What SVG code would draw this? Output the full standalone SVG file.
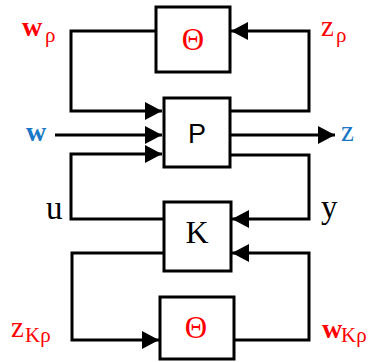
<svg xmlns="http://www.w3.org/2000/svg" width="369" height="362" viewBox="0 0 369 362">
<defs>
<style>
.box{fill:#fff;stroke:#000;stroke-width:3}
.ln{fill:none;stroke:#000;stroke-width:3;stroke-linejoin:miter}
.red{fill:#ff0000;font-family:"Liberation Serif","DejaVu Serif",serif}
.blue{fill:#1878c8;font-family:"Liberation Serif","DejaVu Serif",serif}
.blk{fill:#000;font-family:"Liberation Serif","DejaVu Serif",serif}
.sub{font-size:21px;font-weight:normal}
</style>
<marker id="ah" markerUnits="userSpaceOnUse" markerWidth="18" markerHeight="18" refX="17" refY="9" orient="auto">
<path d="M0,0 L17,9 L0,18 z" fill="#000"/>
</marker>
</defs>
<g id="connectors">
<path class="ln" d="M156,31 H71 V111 H162" marker-end="url(#ah)"/>
<path class="ln" d="M230,111 H309 V31 H231" marker-end="url(#ah)"/>
<path class="ln" d="M55,135 H162" marker-end="url(#ah)"/>
<path class="ln" d="M230,135 H335" marker-end="url(#ah)"/>
<path class="ln" d="M164,219 H71 V154 H162" marker-end="url(#ah)"/>
<path class="ln" d="M230,155 H309 V219 H232" marker-end="url(#ah)"/>
<path class="ln" d="M164,253 H72 V340 H159" marker-end="url(#ah)"/>
<path class="ln" d="M234,340 H309 V253 H232" marker-end="url(#ah)"/>
</g>
<g id="theta-top">
<rect class="box" x="156" y="7" width="74" height="65"/>
<text class="red" x="193" y="50" font-size="31" text-anchor="middle">Θ</text>
</g>
<g id="P">
<rect class="box" x="164" y="98" width="66" height="69"/>
<text x="197" y="143" font-size="27" text-anchor="middle" font-family="Liberation Sans, Arial, sans-serif">P</text>
</g>
<g id="K">
<rect class="box" x="164" y="202" width="67" height="69"/>
<text class="blk" x="197" y="243" font-size="32" text-anchor="middle">K</text>
</g>
<g id="theta-bottom">
<rect class="box" x="160" y="297" width="74" height="62"/>
<text class="red" x="196" y="338" font-size="31" text-anchor="middle">Θ</text>
</g>
<g id="labels">
<text class="red" x="22" y="36" font-size="28" font-weight="bold">w<tspan class="sub" x="45" y="42">ρ</tspan></text>
<text class="red" x="321" y="36" font-size="29">z<tspan class="sub" x="336" y="42">ρ</tspan></text>
<text class="blue" x="26" y="141" font-size="28" font-weight="bold">w</text>
<text class="blue" x="341" y="141" font-size="29">z</text>
<text class="blk" x="46" y="219" font-size="33">u</text>
<text class="blk" x="321" y="218" font-size="33">y</text>
<text class="red" x="11" y="337" font-size="29">z<tspan class="sub" x="25" y="342">Kρ</tspan></text>
<text class="red" x="322" y="338" font-size="28" font-weight="bold">w<tspan class="sub" x="341" y="342">Kρ</tspan></text>
</g>
</svg>
